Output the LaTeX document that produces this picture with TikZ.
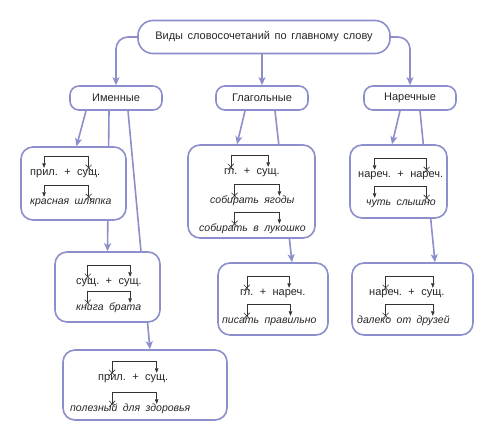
\documentclass[tikz,border=0pt]{standalone}
\usepackage{fontspec}
\setmainfont{Liberation Sans}[WordSpace=1.5]
\usepackage{tikz}
\usetikzlibrary{shapes,arrows.meta,positioning,backgrounds}
\definecolor{lilac}{RGB}{140,143,203}

\begin{document}
\begin{tikzpicture}[
    x=1pt, y=-1pt,
    box/.style={rectangle, rounded corners=12pt, draw=lilac, line width=1.6pt, fill=white, text=black!85, font=\fontsize{11}{13}\selectfont},
    word/.style={inner sep=1pt, text height=6pt, text depth=2pt, text=black!85, font=\fontsize{11}{13}\selectfont},
    ex/.style={word, font=\fontsize{10.5}{13}\selectfont\itshape},
    link/.style={draw=lilac, line width=1.6pt, -{Stealth[length=8pt,width=7pt,inset=2pt]}},
    dep/.style={draw=black!80, line width=0.6pt, -{Triangle[length=4.5pt,width=3.5pt]}},
    main/.style={cross out, draw=black!80, line width=0.6pt, minimum size=5.5pt, inner sep=0pt}
]
    \useasboundingbox (0,0) rectangle (485,442);

    \node[box, minimum width=252pt, minimum height=33pt, rounded corners=15pt] (root) at (264,37) {Виды словосочетаний по главному слову};
    \node[box, minimum width=92pt, minimum height=24pt, rounded corners=9pt] (imen) at (116,98) {Именные};
    \node[box, minimum width=92pt, minimum height=24pt, rounded corners=9pt] (glag) at (262,98) {Глагольные};
    \node[box, minimum width=92pt, minimum height=24pt, rounded corners=9pt] (narech) at (410,98) {Наречные};

    \node[box, minimum width=105pt, minimum height=73pt] (b1) at (73.5,183.5) {};
    \node[box, minimum width=105pt, minimum height=70pt] (b2) at (107.5,287) {};
    \node[box, minimum width=164pt, minimum height=70pt] (b3) at (145,385) {};
    \node[box, minimum width=127pt, minimum height=93pt] (b4) at (251.5,191.5) {};
    \node[box, minimum width=110pt, minimum height=72pt] (b5) at (273,299) {};
    \node[box, minimum width=97pt, minimum height=73pt] (b6) at (398.5,181.5) {};
    \node[box, minimum width=121pt, minimum height=72pt] (b7) at (412.5,299) {};

    % прил. + сущ. / красная шляпка
    \node[word, anchor=west] (p1a) at (29,173) {прил.};
    \node[word, right=4pt of p1a] (p1p) {+};
    \node[word, right=4pt of p1p] (p1b) {сущ.};
    \node[ex, anchor=west] (p1c) at (29,202) {красная};
    \node[ex, right=3pt of p1c] (p1d) {шляпка};
    \node[main] (m1) at (p1b.north) {};
    \node[main] (m2) at (p1d.north -| p1b) {};
    \draw[dep] (m1.center) -- ++(0,-12) -| (p1a.north);
    \draw[dep] (m2.center) -- ++(0,-12) -| (p1c.north -| p1a);

    % сущ. + сущ. / книга брата
    \node[word, anchor=west] (p2a) at (75,282) {сущ.};
    \node[word, right=4pt of p2a] (p2p) {+};
    \node[word, right=4pt of p2p] (p2b) {сущ.};
    \node[ex, anchor=west] (p2c) at (75,308) {книга};
    \node[ex, right=3pt of p2c] (p2d) {брата};
    \node[main] (m3) at (p2a.north) {};
    \node[main] (m4) at (p2c.north -| p2a) {};
    \draw[dep] (m3.center) -- ++(0,-12) -| (p2b.north);
    \draw[dep] (m4.center) -- ++(0,-12) -| (p2d.north -| p2b);

    % прил. + сущ. / полезный для здоровья
    \node[word, anchor=west] (p3a) at (97,378) {прил.};
    \node[word, right=4pt of p3a] (p3p) {+};
    \node[word, right=4pt of p3p] (p3b) {сущ.};
    \node[ex, anchor=west] (p3c) at (69,409) {полезный};
    \node[ex, right=3pt of p3c] (p3d) {для};
    \node[ex, right=3pt of p3d] (p3e) {здоровья};
    \node[main] (m5) at (p3a.north) {};
    \node[main] (m6) at (p3c.north -| p3a) {};
    \draw[dep] (m5.center) -- ++(0,-12) -| (p3b.north);
    \draw[dep] (m6.center) -- ++(0,-12) -| (p3e.north -| p3b);

    % гл. + сущ. / собирать ягоды / собирать в лукошко
    \node[word, anchor=west] (p4a) at (223,172) {гл.};
    \node[word, right=4pt of p4a] (p4p) {+};
    \node[word, right=4pt of p4p] (p4b) {сущ.};
    \node[ex, anchor=west] (p4c) at (209,201) {собирать};
    \node[ex, right=3pt of p4c] (p4d) {ягоды};
    \node[ex, anchor=west] (p4e) at (198,229) {собирать};
    \node[ex, right=3pt of p4e] (p4f) {в};
    \node[ex, right=3pt of p4f] (p4g) {лукошко};
    \node[main] (m7) at (p4a.north) {};
    \node[main] (m8) at (p4c.north) {};
    \node[main] (m9) at (p4e.north -| p4c) {};
    \draw[dep] (m7.center) -- ++(0,-12) -| (p4b.north);
    \draw[dep] (m8.center) -- ++(0,-12) -| (p4d.north);
    \draw[dep] (m9.center) -- ++(0,-12) -| (p4g.north -| p4d);

    % гл. + нареч. / писать правильно
    \node[word, anchor=west] (p5a) at (239,293) {гл.};
    \node[word, right=4pt of p5a] (p5p) {+};
    \node[word, right=4pt of p5p] (p5b) {нареч.};
    \node[ex, anchor=west] (p5c) at (221,321) {писать};
    \node[ex, right=3pt of p5c] (p5d) {правильно};
    \node[main] (m10) at (p5a.north) {};
    \node[main] (m11) at (p5c.north -| p5a) {};
    \draw[dep] (m10.center) -- ++(0,-12) -| (p5b.north);
    \draw[dep] (m11.center) -- ++(0,-12) -| (p5d.north);

    % нареч. + нареч. / чуть слышно
    \node[word, anchor=west] (p6a) at (357,175) {нареч.};
    \node[word, right=4pt of p6a] (p6p) {+};
    \node[word, right=4pt of p6p] (p6b) {нареч.};
    \node[ex, anchor=west] (p6c) at (365,203) {чуть};
    \node[ex, right=3pt of p6c] (p6d) {слышно};
    \node[main] (m12) at (p6b.north) {};
    \node[main] (m13) at (p6d.north -| p6b) {};
    \draw[dep] (m12.center) -- ++(0,-12) -| (p6a.north);
    \draw[dep] (m13.center) -- ++(0,-12) -| (p6c.north -| p6a);

    % нареч. + сущ. / далеко от друзей
    \node[word, anchor=west] (p7a) at (368,293) {нареч.};
    \node[word, right=4pt of p7a] (p7p) {+};
    \node[word, right=4pt of p7p] (p7b) {сущ.};
    \node[ex, anchor=west] (p7c) at (356,321) {далеко};
    \node[ex, right=3pt of p7c] (p7d) {от};
    \node[ex, right=3pt of p7d] (p7e) {друзей};
    \node[main] (m14) at (p7a.north) {};
    \node[main] (m15) at (p7c.north -| p7a) {};
    \draw[dep] (m14.center) -- ++(0,-12) -| (p7b.north);
    \draw[dep] (m15.center) -- ++(0,-12) -| (p7e.north -| p7b);

    \begin{pgfonlayer}{background}
        \draw[link, rounded corners=12pt] (root.west) -| (imen.north);
        \draw[link] (root.south -| glag.north) -- (glag.north);
        \draw[link, rounded corners=12pt] (root.east) -| (narech.north);
        \draw[link] ([xshift=-30pt]imen.south) -- ([xshift=3pt]b1.north);
        \draw[link] ([xshift=-7pt]imen.south) -- (b2.north);
        \draw[link] ([xshift=12pt]imen.south) -- ([xshift=5pt]b3.north);
        \draw[link] ([xshift=-17pt]glag.south) -- ([xshift=-14.5pt]b4.north);
        \draw[link] ([xshift=13pt]glag.south) -- ([xshift=19pt]b5.north);
        \draw[link] ([xshift=-10pt]narech.south) -- ([xshift=-6.5pt]b6.north);
        \draw[link] ([xshift=10pt]narech.south) -- ([xshift=22.5pt]b7.north);
    \end{pgfonlayer}
\end{tikzpicture}
\end{document}
